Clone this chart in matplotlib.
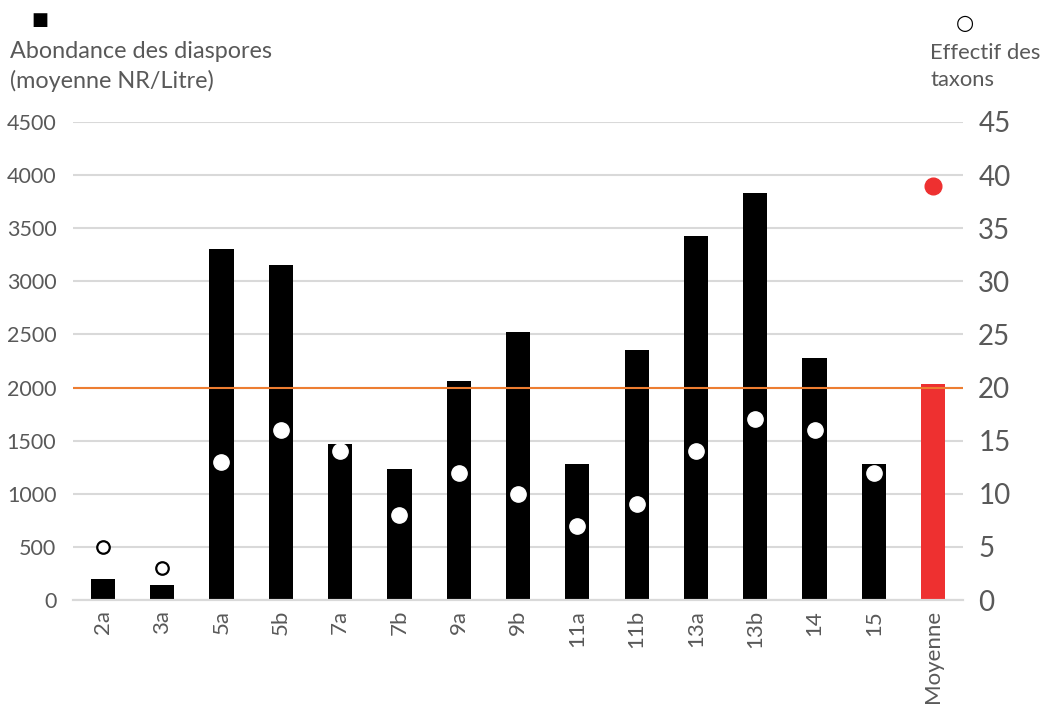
import matplotlib
matplotlib.use("Agg")
import matplotlib.pyplot as plt

plt.rcParams['font.family'] = ['Lato', 'DejaVu Sans']

# échantillons
echantillons = ["2a", "3a", "5a", "5b", "7a", "7b", "9a", "9b", "11a", "11b",
                "13a", "13b", "14", "15", "Moyenne"]
# abondance moyenne (NR/Litre)
abondance = [200, 140, 3300, 3150, 1470, 1230, 2060, 2520, 1280, 2350,
             3430, 3830, 2280, 1280, 2030]
# nombre de taxons
taxons = [5, 3, 13, 16, 14, 8, 12, 10, 7, 9, 14, 17, 16, 12, 39]
seuil = 2000

gris = "#595959"
rouge = "#EE3030"

fig = plt.figure(figsize=(10.45, 7.06), dpi=100)
ax = fig.add_axes([0.0699, 0.150, 0.8516, 0.6772])
ax2 = ax.twinx()

x = list(range(len(echantillons)))
couleurs = ["black"] * (len(echantillons) - 1) + [rouge]
ax.bar(x, abondance, width=0.41, color=couleurs, zorder=2)
ax.axhline(seuil, color="#ED7D31", lw=1.5, zorder=3)

ax.set_ylim(0, 4500)
ax.set_yticks(range(0, 4501, 500))
ax.set_xlim(-0.5, len(echantillons) - 0.5)
ax.set_xticks(x)
ax.set_xticklabels(echantillons, rotation=90, fontsize=16, color=gris)
ax.yaxis.grid(True, color="#D9D9D9", lw=1.5, zorder=0)
ax.set_axisbelow(True)
ax.tick_params(axis="y", length=0, pad=12, labelsize=15.5, labelcolor=gris)
ax.tick_params(axis="x", length=0, pad=7)

# points des taxons
for i, (xi, t) in enumerate(zip(x, taxons)):
    if i == len(x) - 1:
        ax2.plot(xi, t, "o", ms=12, color=rouge, mec=rouge, zorder=5)
    elif abondance[i] < 500:
        ax2.plot(xi, t, "o", ms=9, mfc="white", mec="black", mew=1.6, zorder=5)
    else:
        ax2.plot(xi, t, "o", ms=11, mfc="white", mec="white", zorder=5)

ax2.set_ylim(0, 45)
ax2.set_yticks(range(0, 46, 5))
ax2.tick_params(axis="y", length=0, pad=11, labelsize=20, labelcolor=gris)

for a in (ax, ax2):
    for s in ("top", "left", "right"):
        a.spines[s].set_visible(False)
    a.spines["bottom"].set_color("#D9D9D9")
    a.spines["bottom"].set_linewidth(1.5)

# légendes des axes
fig.text(0.0383, 0.972, "■", fontsize=13, color="black", ha="center", va="center",
         family=["DejaVu Sans"])
fig.text(0.010, 0.906, "Abondance des diaspores\n(moyenne NR/Litre)", fontsize=16.8,
         color=gris, ha="left", va="center", linespacing=1.4)
fig.text(0.9235, 0.968, "○", fontsize=15, color="black", ha="center", va="center",
         family=["DejaVu Sans"])
fig.text(0.890, 0.906, "Effectif des\ntaxons", fontsize=15.8,
         color=gris, ha="left", va="center", linespacing=1.45)

fig.savefig("out.png", dpi=100)
